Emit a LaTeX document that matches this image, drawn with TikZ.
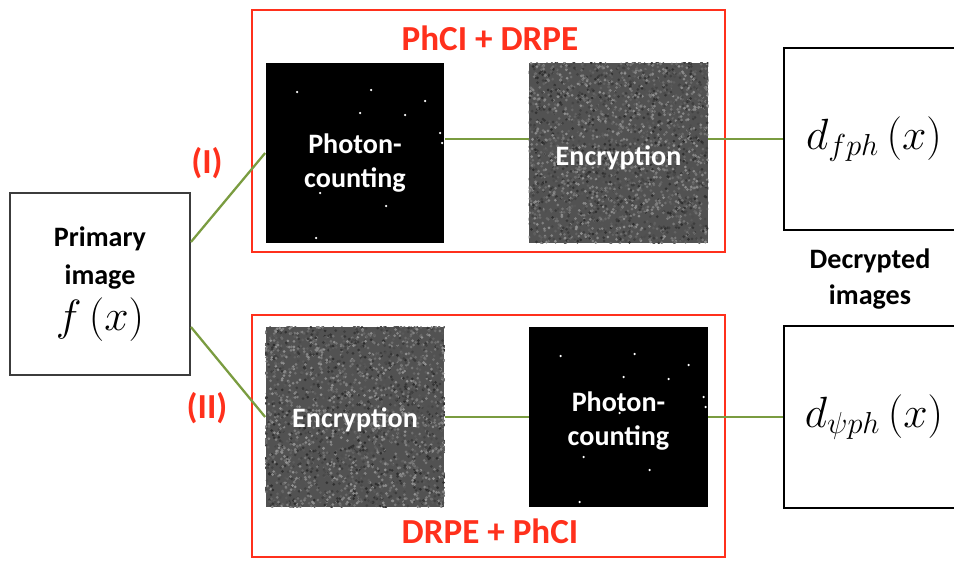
\documentclass[tikz,border=0pt]{standalone}
\usepackage{fontspec}
\setmainfont{Carlito}
\usepackage{tikz}
\usetikzlibrary{positioning, calc}
\definecolor{boxred}{RGB}{255,48,28}
\definecolor{linkgreen}{RGB}{122,156,64}
\definecolor{framegray}{RGB}{60,60,60}

\newcommand{\speckle}[1]{%
  \begin{scope}
    \clip (#1.south west) rectangle (#1.north east);
    \foreach \k in {1,...,2600} {
      \pgfmathsetmacro{\lv}{int(18+40*rnd)}
      \fill[white!\lv!black] ($(#1.south west)+(rnd*180,-rnd*182)$) circle (0.03cm);
    }
  \end{scope}}
\newcommand{\photons}[1]{%
  \foreach \dx/\dy in {-58/-61,16/-63,70/-52,5/-40,50/-38,85/-20,87/-10,1/-4,-35/40,31/53,-39/85}
    \fill[white] ($(#1)+(\dx,\dy)$) circle (0.025cm);}

\begin{document}
\begin{tikzpicture}[x=0.02cm, y=-0.02cm,
    plain/.style={draw=framegray, line width=1.1pt, inner sep=0pt, align=center, font=\fontsize{16}{22}\selectfont\bfseries},
    outbox/.style={draw=black, line width=0.9pt, inner sep=0pt, minimum width=3.6cm, minimum height=3.64cm, font=\fontsize{24}{28}\selectfont},
    group/.style={draw=boxred, line width=1.1pt, inner sep=0pt, minimum width=9.46cm, minimum height=4.84cm},
    title/.style={text=boxred, font=\fontsize{20}{24}\selectfont\bfseries},
    dark/.style={fill=black, inner sep=0pt, minimum width=3.58cm, minimum height=3.6cm},
    noisy/.style={fill=black!68, inner sep=0pt, minimum width=3.58cm, minimum height=3.6cm},
    inlabel/.style={text=white, align=center, font=\fontsize{16}{19}\selectfont\bfseries},
    link/.style={draw=linkgreen, line width=1.3pt}
]
    \useasboundingbox (0,0) rectangle (954,561);

    \node[plain, minimum width=3.6cm, minimum height=3.64cm] (primary) at (100,284) {Primary\\image\\[4pt]{\fontsize{28}{32}\selectfont\mdseries$f\,(x)$}};

    \node[group] (grpone) at (488.5,131) {};
    \node[title] (ttlone) at (490,38) {PhCI + DRPE};
    \node[dark] (phcone) at (355,153) {};
    \node[noisy] (encone) at (618.5,153) {};
    \speckle{encone}
    \photons{phcone}
    \node[inlabel] at ([yshift=-0.2cm]phcone.center) {Photon-\\counting};
    \node[inlabel] at ([yshift=-0.1cm]encone.center) {Encryption};

    \node[group] (grptwo) at (488.5,436) {};
    \node[title] (ttltwo) at (490,531) {DRPE + PhCI};
    \node[noisy] (enctwo) at (355,417) {};
    \node[dark] (phctwo) at (618.5,417) {};
    \speckle{enctwo}
    \photons{phctwo}
    \node[inlabel] at ([yshift=-0.06cm]enctwo.center) {Encryption};
    \node[inlabel] at ([yshift=-0.08cm]phctwo.center) {Photon-\\counting};

    \node[outbox] (outone) at (874,139) {$d_{fph}\,(x)$};
    \node[outbox] (outtwo) at (874,417) {$d_{\psi ph}\,(x)$};
    \node[align=center, font=\fontsize{16}{20}\selectfont\bfseries] (decr) at (870,279) {Decrypted\\images};

    \node[title] (pathone) at (207,163) {(I)};
    \node[title] (pathtwo) at (207,408) {(II)};

    \draw[link] ([yshift=0.84cm]primary.east) -- (phcone.west);
    \draw[link] ([yshift=-0.86cm]primary.east) -- (enctwo.west);
    \draw[link] (phcone.east |- outone.west) -- (encone.west |- outone.west);
    \draw[link] (encone.east |- outone.west) -- (outone.west);
    \draw[link] (enctwo.east) -- (phctwo.west);
    \draw[link] (phctwo.east) -- (outtwo.west);

\end{tikzpicture}
\end{document}
